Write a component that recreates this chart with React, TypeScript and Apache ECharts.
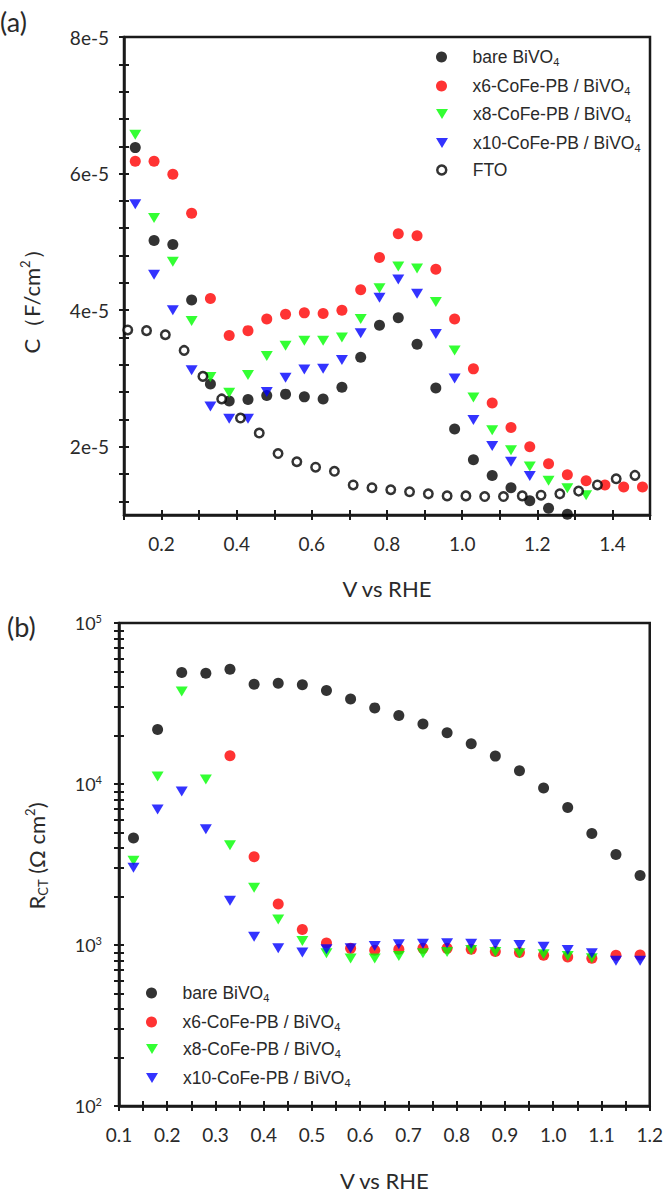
import React, { useEffect, useRef } from 'react';
import * as echarts from 'echarts';

// ---- panel (a): capacitance vs potential ----
const capX = [0.13, 0.18, 0.23, 0.28, 0.33, 0.38, 0.43, 0.48, 0.53, 0.58, 0.63, 0.68, 0.73, 0.78,
  0.83, 0.88, 0.93, 0.98, 1.03, 1.08, 1.13, 1.18, 1.23, 1.28, 1.33, 1.38, 1.43, 1.48];
const capBare = [6.38e-5, 5.02e-5, 4.96e-5, 4.15e-5, 2.92e-5, 2.67e-5, 2.69e-5, 2.75e-5, 2.77e-5, 2.73e-5,
  2.70e-5, 2.87e-5, 3.31e-5, 3.78e-5, 3.89e-5, 3.50e-5, 2.86e-5, 2.26e-5, 1.81e-5, 1.58e-5, 1.40e-5,
  1.21e-5, 1.10e-5, 1.01e-5];
const capX6 = [6.18e-5, 6.18e-5, 5.99e-5, 5.42e-5, 4.17e-5, 3.63e-5, 3.70e-5, 3.87e-5, 3.94e-5, 3.96e-5,
  3.95e-5, 4.00e-5, 4.30e-5, 4.77e-5, 5.12e-5, 5.09e-5, 4.60e-5, 3.87e-5, 3.14e-5, 2.64e-5, 2.28e-5,
  2.00e-5, 1.75e-5, 1.59e-5, 1.50e-5, 1.44e-5, 1.41e-5, 1.41e-5];
const capX8 = [6.57e-5, 5.35e-5, 4.71e-5, 3.84e-5, 3.02e-5, 2.79e-5, 3.05e-5, 3.33e-5, 3.48e-5, 3.55e-5,
  3.55e-5, 3.60e-5, 3.87e-5, 4.32e-5, 4.64e-5, 4.61e-5, 4.12e-5, 3.41e-5, 2.72e-5, 2.24e-5, 1.95e-5,
  1.71e-5, 1.50e-5, 1.39e-5, 1.29e-5];
const capX10 = [5.55e-5, 4.52e-5, 4.00e-5, 3.12e-5, 2.59e-5, 2.41e-5, 2.41e-5, 2.80e-5, 3.01e-5, 3.13e-5,
  3.14e-5, 3.27e-5, 3.66e-5, 4.18e-5, 4.45e-5, 4.24e-5, 3.65e-5, 3.00e-5, 2.39e-5, 2.01e-5, 1.78e-5,
  1.57e-5];
const ftoX = [0.11, 0.16, 0.21, 0.26, 0.31, 0.36, 0.41, 0.46, 0.51, 0.56, 0.61, 0.66, 0.71, 0.76,
  0.81, 0.86, 0.91, 0.96, 1.01, 1.06, 1.11, 1.16, 1.21, 1.26, 1.31, 1.36, 1.41, 1.46];
const capFto = [3.71e-5, 3.70e-5, 3.64e-5, 3.41e-5, 3.03e-5, 2.70e-5, 2.42e-5, 2.20e-5, 1.90e-5, 1.78e-5,
  1.70e-5, 1.64e-5, 1.44e-5, 1.40e-5, 1.37e-5, 1.34e-5, 1.31e-5, 1.28e-5, 1.28e-5, 1.27e-5, 1.27e-5,
  1.28e-5, 1.29e-5, 1.31e-5, 1.35e-5, 1.44e-5, 1.53e-5, 1.58e-5];

const capXTicks = [0.2, 0.4, 0.6, 0.8, 1.0, 1.2, 1.4];
const capYLabels = [2e-5, 4e-5, 6e-5, 8e-5];
const capYTicks = [1.2e-5, 1.6e-5, 2.0e-5, 2.4e-5, 2.8e-5, 3.2e-5, 3.6e-5, 4.0e-5, 4.4e-5, 4.8e-5,
  5.2e-5, 5.6e-5, 6.0e-5, 6.4e-5, 6.8e-5, 7.2e-5, 7.6e-5, 8.0e-5];

// ---- panel (b): charge-transfer resistance ----
const rctX = [0.13, 0.18, 0.23, 0.28, 0.33, 0.38, 0.43, 0.48, 0.53, 0.58, 0.63, 0.68, 0.73, 0.78,
  0.83, 0.88, 0.93, 0.98, 1.03, 1.08, 1.13, 1.18];
const rctX6X = [0.33, 0.38, 0.43, 0.48, 0.53, 0.58, 0.63, 0.68, 0.73, 0.78, 0.83, 0.88, 0.93, 0.98,
  1.03, 1.08, 1.13, 1.18];
const rctBare = [4620, 21800, 49200, 48800, 51600, 41700, 42300, 41300, 38100, 33700, 29700, 26600,
  23600, 20800, 17800, 14900, 12100, 9450, 7140, 4920, 3650, 2700];
const rctX6 = [14960, 3530, 1800, 1250, 1030, 953, 927, 940, 953, 953, 940, 910, 897, 864, 843, 828, 864, 867];
const rctX8 = [3340, 11150, 37600, 10650, 4170, 2270, 1440, 1058, 889, 824, 824, 855, 889, 905, 931,
  905, 889, 876, 855, 828];
const rctX10 = [3020, 6950, 8970, 5240, 1880, 1125, 953, 897, 940, 953, 986, 1010, 1019, 1024, 1019,
  1010, 1000, 977, 931, 889, 797, 797];

const rctXLabels = [0.1, 0.2, 0.3, 0.4, 0.5, 0.6, 0.7, 0.8, 0.9, 1.0, 1.1, 1.2];
const rctYTicks = [100, 200, 300, 400, 500, 600, 700, 800, 900, 1000, 2000, 3000, 4000, 5000, 6000,
  7000, 8000, 9000, 10000, 20000, 30000, 40000, 50000, 60000, 70000, 80000, 90000, 100000];

const NAMES = ['bare BiVO4', 'x6-CoFe-PB / BiVO4', 'x8-CoFe-PB / BiVO4', 'x10-CoFe-PB / BiVO4', 'FTO'];
const RICH_NAMES: Record<string, string> = {
  'bare BiVO4': 'bare BiVO{sub|4}',
  'x6-CoFe-PB / BiVO4': 'x6-CoFe-PB / BiVO{sub|4}',
  'x8-CoFe-PB / BiVO4': 'x8-CoFe-PB / BiVO{sub|4}',
  'x10-CoFe-PB / BiVO4': 'x10-CoFe-PB / BiVO{sub|4}',
  FTO: 'FTO',
};

const TICK_FONT = 'Lato, "Open Sans", sans-serif';
const LEG_FONT = '"Liberation Sans", Arial, sans-serif';
const INK = '#1a1a1a';
const TXT = '#2a2a2a';
const TRI = 'path://M0,0L12,0L6,10Z';

const pairs = (xs: number[], ys: number[]) => ys.map((y, i) => [xs[i], y]);

const styles = [
  { symbol: 'circle', symbolSize: 11, itemStyle: { color: '#000' } },
  { symbol: 'circle', symbolSize: 11, itemStyle: { color: '#ff0000' } },
  { symbol: TRI, symbolSize: [12, 10], itemStyle: { color: '#00ff00' } },
  { symbol: TRI, symbolSize: [12, 10], itemStyle: { color: '#0000ff' } },
  { symbol: 'circle', symbolSize: 8.5, itemStyle: { color: '#fff', borderColor: '#000', borderWidth: 2.5 } },
];

const tickLine = { color: INK, width: 2 };
const TICK_LEN = 5;

function xAxes(grid: number, min: number, max: number, interval: number, labels: number[], margin: number, gap: number) {
  return [
    {
      gridIndex: grid, type: 'value', min, max, interval, position: 'bottom',
      axisLine: { show: true, onZero: false, lineStyle: { color: INK, width: 2.5 } },
      axisTick: { show: true, length: TICK_LEN, lineStyle: tickLine },
      axisLabel: {
        customValues: labels, formatter: (v: number) => v.toFixed(1), margin,
        fontFamily: TICK_FONT, fontSize: 19, color: TXT,
      },
      splitLine: { show: false },
      name: 'V vs RHE', nameLocation: 'middle', nameGap: gap,
      nameTextStyle: { fontFamily: TICK_FONT, fontSize: 22, color: TXT },
    },
    {
      gridIndex: grid, type: 'value', min, max, interval, position: 'bottom',
      axisLine: { show: false, onZero: false },
      axisTick: { show: true, inside: true, length: TICK_LEN, lineStyle: tickLine },
      axisLabel: { show: false },
      splitLine: { show: false },
    },
  ];
}

function legendItem(name: string, idx: number, left: number, cy: number) {
  const h = idx === 4 ? 9 : idx >= 2 ? 10 : 11;
  const data: any = idx === 4
    ? [{ name, itemStyle: { color: '#fff', borderColor: '#000', borderWidth: 2.5 } }]
    : [name];
  return {
    data, orient: 'vertical', left, top: cy - 10, padding: 0, itemGap: 0,
    itemWidth: 52, itemHeight: h, selectedMode: false,
    formatter: (n: string) => RICH_NAMES[n],
    textStyle: {
      fontFamily: LEG_FONT, fontSize: 17.5, color: TXT, lineHeight: 20,
      rich: { sub: { fontFamily: LEG_FONT, fontSize: 11, color: TXT, verticalAlign: 'bottom' } },
    },
  };
}

const App: React.FC = () => {
  const chartRef = useRef<HTMLDivElement>(null);

  useEffect(() => {
    if (!chartRef.current) return;
    const chart = echarts.init(chartRef.current, undefined, { renderer: 'svg' });

    const topLegendY = [57, 86, 114, 143, 170];
    const bottomLegendY = [993, 1022, 1049, 1078];

    const option: any = {
      animation: false,
      grid: [
        { left: 124, top: 37, width: 526, height: 478, show: true, borderColor: INK, borderWidth: 2.5 },
        { left: 119, top: 623, width: 532, height: 485, show: true, borderColor: INK, borderWidth: 2.5 },
      ],
      xAxis: [
        ...xAxes(0, 0.1, 1.5, 0.1, capXTicks, 19, 62),
        ...xAxes(1, 0.1, 1.2, 0.05, rctXLabels, 19, 63),
      ],
      yAxis: [
        {
          gridIndex: 0, type: 'value', min: 1e-5, max: 8e-5, position: 'left',
          axisLine: { show: true, onZero: false, lineStyle: { color: INK, width: 2.5 } },
          axisTick: { show: true, customValues: capYTicks, length: TICK_LEN, lineStyle: tickLine },
          axisLabel: {
            customValues: capYLabels, formatter: (v: number) => Math.round(v * 1e5) + 'e-5',
            margin: 15, fontFamily: TICK_FONT, fontSize: 19, color: TXT,
          },
          splitLine: { show: false },
        },
        {
          gridIndex: 0, type: 'value', min: 1e-5, max: 8e-5, position: 'left',
          axisLine: { show: false, onZero: false },
          axisTick: { show: true, customValues: capYTicks, inside: true, length: TICK_LEN, lineStyle: tickLine },
          axisLabel: { show: false },
          splitLine: { show: false },
        },
        {
          gridIndex: 1, type: 'log', logBase: 10, min: 100, max: 100000, position: 'left',
          axisLine: { show: true, onZero: false, lineStyle: { color: INK, width: 2.5 } },
          axisTick: { show: true, customValues: rctYTicks, length: TICK_LEN, lineStyle: tickLine },
          axisLabel: {
            formatter: (v: number) => '10{sup|' + Math.round(Math.log10(v)) + '}',
            margin: 17, fontFamily: TICK_FONT, fontSize: 18, color: TXT, lineHeight: 20,
            rich: { sup: { fontFamily: TICK_FONT, fontSize: 11, color: TXT, verticalAlign: 'top' } },
          },
          splitLine: { show: false },
        },
        {
          gridIndex: 1, type: 'log', logBase: 10, min: 100, max: 100000, position: 'left',
          axisLine: { show: false, onZero: false },
          axisTick: { show: true, customValues: rctYTicks, inside: true, length: TICK_LEN, lineStyle: tickLine },
          axisLabel: { show: false },
          splitLine: { show: false },
        },
      ],
      legend: [
        ...NAMES.map((n, i) => legendItem(n, i, 436, topLegendY[i])),
        ...NAMES.slice(0, 4).map((n, i) => legendItem(n, i, 146, bottomLegendY[i])),
      ],
      graphic: [
        { type: 'text', x: 0, y: 21, style: { text: '(a)', fontFamily: TICK_FONT, fontSize: 27, fill: TXT, align: 'left', verticalAlign: 'middle' } },
        { type: 'text', x: 7, y: 626, style: { text: '(b)', fontFamily: TICK_FONT, fontSize: 27, fill: TXT, align: 'left', verticalAlign: 'middle' } },
        {
          type: 'text', x: 31, y: 296, rotation: Math.PI / 2,
          style: {
            text: 'C（F/cm{sup|2}）', fontFamily: TICK_FONT, fontSize: 22, fill: TXT, lineHeight: 26,
            align: 'center', verticalAlign: 'middle',
            rich: { sup: { fontFamily: TICK_FONT, fontSize: 13, fill: TXT, verticalAlign: 'top' } },
          },
        },
        {
          type: 'text', x: 36, y: 856, rotation: Math.PI / 2,
          style: {
            text: 'R{sub|CT} (Ω cm{sup|2})', fontFamily: TICK_FONT, fontSize: 22, fill: TXT, lineHeight: 26,
            align: 'center', verticalAlign: 'middle',
            rich: {
              sub: { fontFamily: TICK_FONT, fontSize: 13, fill: TXT, verticalAlign: 'bottom' },
              sup: { fontFamily: TICK_FONT, fontSize: 13, fill: TXT, verticalAlign: 'top' },
            },
          },
        },
      ],
      series: [
        { name: NAMES[0], type: 'scatter', xAxisIndex: 0, yAxisIndex: 0, data: pairs(capX, capBare), ...styles[0] },
        { name: NAMES[1], type: 'scatter', xAxisIndex: 0, yAxisIndex: 0, data: pairs(capX, capX6), ...styles[1] },
        { name: NAMES[2], type: 'scatter', xAxisIndex: 0, yAxisIndex: 0, data: pairs(capX, capX8), ...styles[2] },
        { name: NAMES[3], type: 'scatter', xAxisIndex: 0, yAxisIndex: 0, data: pairs(capX, capX10), ...styles[3] },
        { name: NAMES[4], type: 'scatter', xAxisIndex: 0, yAxisIndex: 0, data: pairs(ftoX, capFto), ...styles[4] },
        { name: NAMES[0], type: 'scatter', xAxisIndex: 2, yAxisIndex: 2, data: pairs(rctX, rctBare), ...styles[0] },
        { name: NAMES[1], type: 'scatter', xAxisIndex: 2, yAxisIndex: 2, data: pairs(rctX6X, rctX6), ...styles[1] },
        { name: NAMES[2], type: 'scatter', xAxisIndex: 2, yAxisIndex: 2, data: pairs(rctX, rctX8), ...styles[2] },
        { name: NAMES[3], type: 'scatter', xAxisIndex: 2, yAxisIndex: 2, data: pairs(rctX, rctX10), ...styles[3] },
      ],
    };

    chart.setOption(option);
    return () => {
      chart.dispose();
    };
  }, []);

  return (
    <div
      ref={chartRef}
      style={{ position: 'absolute', left: 0, top: 0, width: 666, height: 1192, background: '#fff' }}
    />
  );
};

export default App;
